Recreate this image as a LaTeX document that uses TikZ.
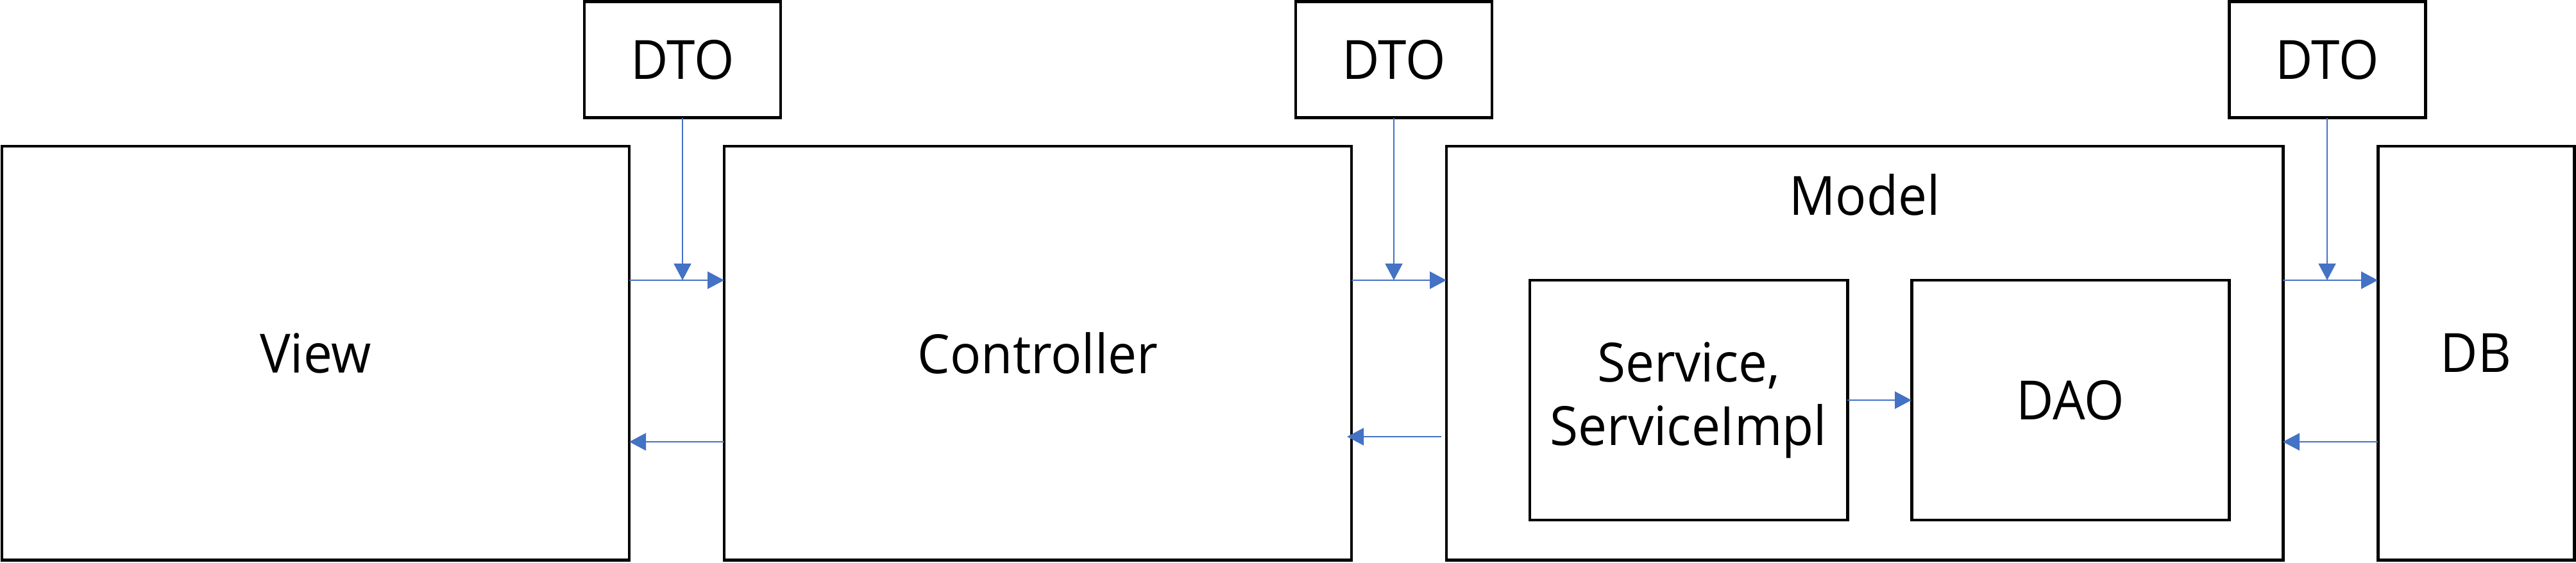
\documentclass[tikz,border=0pt]{standalone}
\usepackage{fontspec}
\setmainfont[FakeStretch=0.95]{Open Sans}
\usepackage{tikz}
\usetikzlibrary{calc,arrows.meta}
\definecolor{line}{HTML}{000000}
\definecolor{flowblue}{HTML}{4472C4}
\tikzset{
  box/.style={draw=line, line width=1.4pt, rectangle, outer sep=0pt, inner sep=0pt,
    align=center, font=\fontsize{24}{28}\selectfont},
  flow/.style={draw=flowblue, line width=0.6pt,
    -{Triangle[length=0.26cm, width=0.27cm, fill=flowblue]}},
  lab/.style={font=\fontsize{24}{28}\selectfont},
}

\begin{document}
\begin{tikzpicture}
  \useasboundingbox (0,0) rectangle (40.16,-8.77);

  % main layers
  \node[box, minimum width=9.78cm, minimum height=6.455cm] (view) at (4.92,-5.5075) {View};
  \node[box, minimum width=9.78cm, minimum height=6.455cm] (ctrl) at (16.18,-5.5075) {Controller};
  \node[box, minimum width=13.04cm, minimum height=6.455cm] (model) at (29.07,-5.5075) {};
  \node[box, minimum width=3.06cm, minimum height=6.455cm] (db) at (38.60,-5.5075) {DB};
  \node[lab, anchor=base] (mlab) at ($(model.north)+(0,-1.07)$) {Model};

  % inside the model
  \node[box, minimum width=4.95cm, minimum height=3.74cm] (svc) at (26.325,-6.24) {Service,\\ServiceImpl};
  \node[box, minimum width=4.95cm, minimum height=3.74cm] (dao) at (32.275,-6.24) {DAO};

  % transfer objects
  \node[box, minimum width=3.06cm, minimum height=1.815cm] (dto1) at (10.64,-0.93) {DTO};
  \node[box, minimum width=3.06cm, minimum height=1.815cm] (dto2) at (21.73,-0.93) {DTO};
  \node[box, minimum width=3.06cm, minimum height=1.815cm] (dto3) at (36.28,-0.93) {DTO};

  \coordinate (fwd) at (0,-4.37);
  \coordinate (back) at (0,-6.89);
  \coordinate (back2) at (0,-6.81);

  % requests
  \draw[flow] (view.east |- fwd) -- (ctrl.west |- fwd);
  \draw[flow] (ctrl.east |- fwd) -- (model.west |- fwd);
  \draw[flow] (model.east |- fwd) -- (db.west |- fwd);
  \draw[flow] (svc) -- (dao);

  % responses
  \draw[flow] (ctrl.west |- back) -- (view.east |- back);
  \draw[flow] ($(model.west |- back2)+(-0.08,0)$) -- ($(ctrl.east |- back2)+(-0.07,0)$);
  \draw[flow] (db.west |- back) -- (model.east |- back);

  % dto hand-off
  \draw[flow] (dto1.south) -- (dto1.south |- fwd);
  \draw[flow] (dto2.south) -- (dto2.south |- fwd);
  \draw[flow] (dto3.south) -- (dto3.south |- fwd);
\end{tikzpicture}
\end{document}
